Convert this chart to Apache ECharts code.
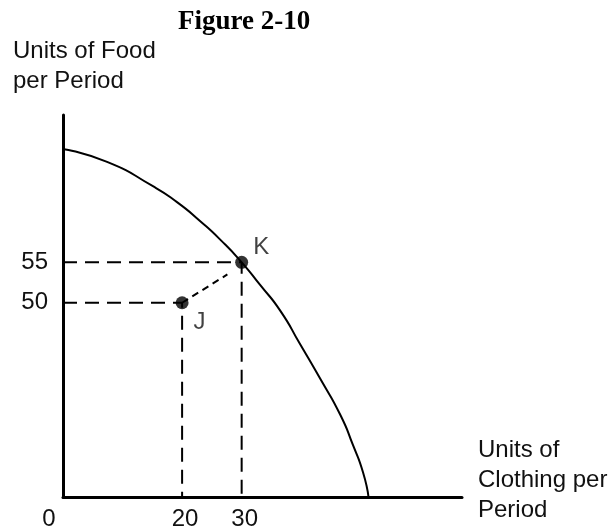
<!DOCTYPE html>
<html>
<head>
<meta charset="utf-8">
<script src="https://cdn.jsdelivr.net/npm/echarts@6/dist/echarts.min.js"></script>
<style>
html,body{margin:0;padding:0;background:#fff;}
#chart{width:616px;height:531px;}
</style>
</head>
<body>
<div id="chart"></div>
<script>
// Data
const ppfX = [0, 7.4, 15.1, 19.2, 23.0, 26.4, 30, 33.1, 36.5, 39.8, 43.2, 46.6, 48.7, 50.4, 51.3];
const ppfY = [69.0, 67.4, 64.4, 62.4, 60.1, 57.8, 55, 52.2, 49.0, 44.9, 40.6, 36.1, 32.4, 29.0, 26.0];
const pointNames = ['J', 'K'];
const pointX = [20, 30];
const pointY = [50, 55];
const moveX = [20, 27.6];
const moveY = [50, 53.5];
const xTickLabels = [0, 20, 30];
const yTickLabels = [50, 55];
const xMin = 0, xMax = 67, yMin = 26, yMax = 73.2;

const chart = echarts.init(document.getElementById('chart'), null, {renderer: 'canvas'});
const txt = '#111';
const sans = 'Liberation Sans, Arial, sans-serif';
const dash = [14, 8];

const zip = (a, b) => a.map((v, i) => [v, b[i]]);

const option = {
  animation: false,
  backgroundColor: '#fff',
  title: [
    {text: 'Figure 2-10', left: 178, top: 9, padding: 0,
     textStyle: {fontFamily: 'Liberation Serif, Times New Roman, serif', fontWeight: 'bold', fontSize: 27, color: '#000'}},
    {text: 'Units of Food\nper Period', left: 13, top: 36, padding: 0,
     textStyle: {fontFamily: sans, fontWeight: 'normal', fontSize: 24, lineHeight: 30, color: txt}},
    {text: 'Units of\nClothing per\nPeriod', left: 478, top: 435, padding: 0,
     textStyle: {fontFamily: sans, fontWeight: 'normal', fontSize: 24, lineHeight: 30, color: txt}}
  ],
  grid: {left: 63, right: 154, top: 115, bottom: 29, containLabel: false},
  xAxis: {
    type: 'value', min: xMin, max: xMax,
    axisLine: {show: true, lineStyle: {color: '#000', width: 3}},
    axisTick: {show: false},
    splitLine: {show: false},
    axisLabel: {
      customValues: xTickLabels, margin: 10, fontFamily: sans, fontSize: 24, color: txt,
      padding: [0, 0, 0, 6],
      formatter: v => v === 0 ? '{z|0}' : String(v),
      rich: {z: {fontFamily: sans, fontSize: 24, color: txt, padding: [0, 34, 0, 0]}}
    }
  },
  yAxis: {
    type: 'value', min: yMin, max: yMax,
    axisLine: {show: true, lineStyle: {color: '#000', width: 3}},
    axisTick: {show: false},
    splitLine: {show: false},
    axisLabel: {customValues: yTickLabels, margin: 15, fontFamily: sans, fontSize: 24, color: txt, padding: [5, 0, 0, 0]}
  },
  series: [
    {type: 'line', data: zip(ppfX, ppfY), smooth: 0.6, showSymbol: false,
     lineStyle: {color: '#000', width: 2}, z: 3},
    {type: 'line', data: [[0, pointY[1]], [pointX[1], pointY[1]], [pointX[1], yMin]], showSymbol: false,
     lineStyle: {color: '#000', width: 2, type: dash}, z: 2},
    {type: 'line', data: [[0, pointY[0]], [pointX[0], pointY[0]], [pointX[0], yMin]], showSymbol: false,
     lineStyle: {color: '#000', width: 2, type: dash}, z: 2},
    {type: 'line', data: zip(moveX, moveY), showSymbol: false,
     lineStyle: {color: '#000', width: 2, type: [7, 5]}, z: 2},
    {type: 'scatter', symbolSize: 13, itemStyle: {color: '#000'}, z: 5,
     data: pointNames.map((n, i) => ({
       value: [pointX[i], pointY[i]], name: n,
       label: {show: true, position: 'right', distance: 5, formatter: n,
               offset: n === 'K' ? [0, -15] : [0, 20],
               fontFamily: sans, fontSize: 24, color: txt}
     }))}
  ]
};
chart.setOption(option);
</script>
</body>
</html>
